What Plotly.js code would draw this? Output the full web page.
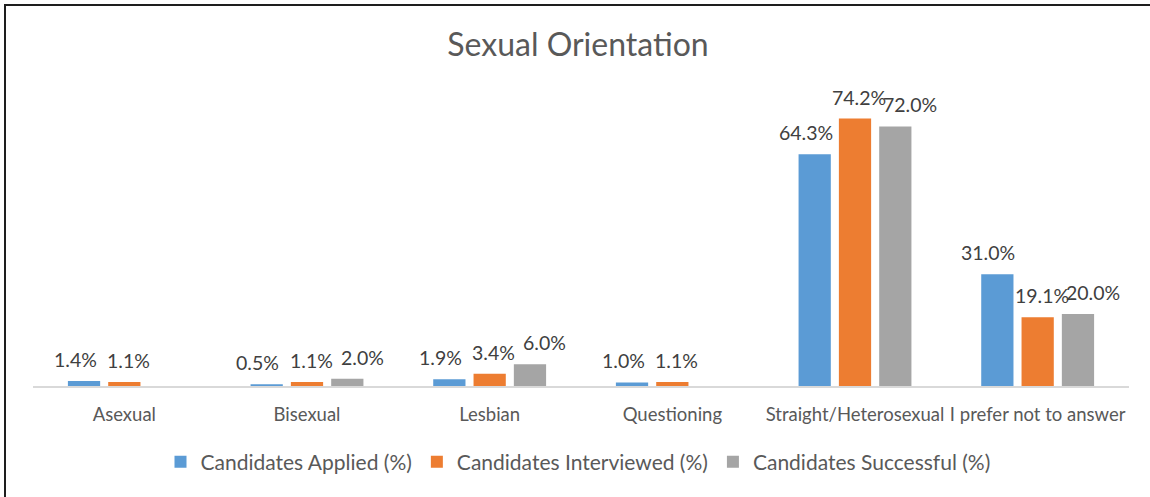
<!DOCTYPE html>
<html>
<head>
<meta charset="utf-8">
<script src="https://cdn.plot.ly/plotly-3.0.1.min.js"></script>
<style>
  html, body { margin: 0; padding: 0; background: #fff; }
  #frame { position: absolute; left: 4px; top: 4px; width: 1146px; height: 493px;
           border-left: 2px solid #1e1e1e; border-top: 2px solid #1e1e1e; box-sizing: border-box; }
  #chart { position: absolute; left: 0; top: 0; width: 1144px; height: 491px; }
</style>
</head>
<body>
<div id="frame"><div id="chart"></div></div>
<script>
const categories = ["Asexual", "Bisexual", "Lesbian", "Questioning", "Straight/Heterosexual", "I prefer not to answer"];
const seriesNames = ["Candidates Applied (%)", "Candidates Interviewed (%)", "Candidates Successful (%)"];
const applied = [1.4, 0.5, 1.9, 1.0, 64.3, 31.0];
const interviewed = [1.1, 1.1, 3.4, 1.1, 74.2, 19.1];
const successful = [null, 2.0, 6.0, null, 72.0, 20.0];
const colors = ["#5B9BD5", "#ED7D31", "#A5A5A5"];

const W = 1144, H = 491;
const margin = {l: 27, r: 21, t: 74, b: 111};
const bargap = 0.338, bargroupgap = 0.2;
const FONT = "Lato, 'Open Sans', sans-serif";

const allSeries = [applied, interviewed, successful];
const traces = allSeries.map((vals, i) => ({
  type: "bar",
  name: seriesNames[i],
  x: categories,
  y: vals,
  marker: {color: colors[i], line: {width: 0}},
  hoverinfo: "x+y+name"
}));

// data labels, attached to each bar via data coordinates
const plotW = W - margin.l - margin.r;
const catW = plotW / categories.length;
const slot = catW * (1 - bargap) / 3;
const nudge = [-9, 4, 15];
const annotations = [];
allSeries.forEach((vals, i) => {
  vals.forEach((v, j) => {
    if (v === null) return;
    annotations.push({
      x: categories[j], y: v, xref: "x", yref: "y",
      text: v.toFixed(1) + "%",
      showarrow: false, yanchor: "bottom", xanchor: "center",
      xshift: (i - 1) * slot + nudge[i], yshift: 8,
      font: {family: FONT, size: 19.5, color: "#404040"}
    });
  });
});

const layout = {
  width: W, height: H,
  margin: margin,
  paper_bgcolor: "#fff", plot_bgcolor: "#fff",
  title: {text: "Sexual Orientation", x: 0.5, xanchor: "center", xref: "container",
          y: 0.92, yanchor: "middle", yref: "container",
          font: {family: FONT, size: 32, color: "#595959"}},
  barmode: "group", bargap: bargap, bargroupgap: bargroupgap,
  xaxis: {
    type: "category", showgrid: false, zeroline: false,
    showline: true, linecolor: "#D9D9D9", linewidth: 2,
    ticks: "", ticklabelstandoff: 11,
    tickfont: {family: FONT, size: 18.5, color: "#595959"}
  },
  yaxis: {range: [0, 84.9], visible: false, showgrid: false, zeroline: false, fixedrange: true},
  showlegend: true,
  legend: {orientation: "h", x: 0.5, xanchor: "center", xref: "container",
           y: 1 - 456 / H, yanchor: "middle", yref: "container",
           font: {family: FONT, size: 21, color: "#595959"}, traceorder: "normal"},
  annotations: annotations
};

Plotly.newPlot("chart", traces, layout, {displayModeBar: false, staticPlot: true});
</script>
</body>
</html>
